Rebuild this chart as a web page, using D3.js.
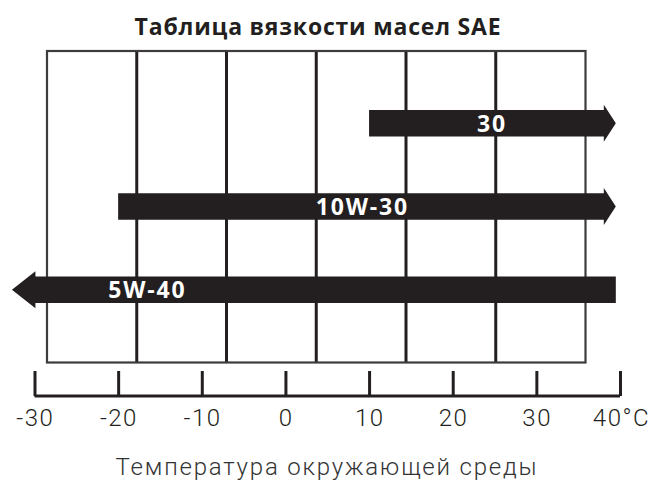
<!DOCTYPE html>
<html>
<head>
<meta charset="utf-8">
<script src="https://cdn.jsdelivr.net/npm/d3@7"></script>
<style>
  html, body { margin: 0; padding: 0; background: #fff; }
  svg { display: block; }
</style>
</head>
<body>
<svg id="chart" width="652" height="482"></svg>
<script>
// ---- data ----
const title = "Таблица вязкости масел SAE";
const xTitle = "Температура окружающей среды";
const grades = ["30", "10W-30", "5W-40"];
const rangeLow = [10, -20, -32.7];        // °C, lowest temperature (arrow start / tip)
const rangeHigh = [39.5, 39.5, 39.5];     // °C, highest temperature
const arrowDir = ["right", "right", "left"];
const labelAt = [24.7, 9.2, -16.5];       // °C, label centre
const tickValues = [-30, -20, -10, 0, 10, 20, 30, 40];
const tickLabels = ["-30", "-20", "-10", "0", "10", "20", "30", "40°C"];
const gridColumns = [0, 1, 2, 3, 4, 5, 6];

const svg = d3.select("#chart");
const ink = "#231f20";

// scales
const x = d3.scaleLinear().domain([-30, 40]).range([34.5, 620]);
const y = d3.scalePoint().domain(grades).range([123.3, 289.7]);
const gx = d3.scaleLinear().domain([0, 6]).range([47, 585.5]);
const boxTop = 51, boxBottom = 362.5;

// title
svg.append("text")
  .attr("x", 318).attr("y", 35)
  .attr("text-anchor", "middle")
  .attr("font-family", "Open Sans, sans-serif")
  .attr("font-weight", 700)
  .attr("font-size", 23)
  .attr("letter-spacing", 0.8)
  .attr("fill", ink)
  .text(title);

// grid box
svg.append("g").selectAll("line")
  .data(gridColumns.slice(1, -1))
  .join("line")
  .attr("x1", d => gx(d)).attr("x2", d => gx(d))
  .attr("y1", boxTop).attr("y2", boxBottom)
  .attr("stroke", ink).attr("stroke-width", 3);

svg.append("rect")
  .attr("x", gx(0)).attr("y", boxTop)
  .attr("width", gx(6) - gx(0)).attr("height", boxBottom - boxTop)
  .attr("fill", "none")
  .attr("stroke", "#3d3b3c").attr("stroke-width", 2.2);

// arrows
const bodyH = 26.5, headExtra = 5.2, headLenR = 12, headLenL = 23.5;
const arrows = svg.append("g");
grades.forEach((g, i) => {
  const cy = y(g);
  const x0 = x(rangeLow[i]), x1 = x(rangeHigh[i]);
  const t = cy - bodyH / 2, b = cy + bodyH / 2;
  const ht = t - headExtra, hb = b + headExtra;
  let pts;
  if (arrowDir[i] === "right") {
    const hb0 = x1 - headLenR;
    pts = [[x0, t], [hb0, t], [hb0, ht], [x1, cy], [hb0, hb], [hb0, b], [x0, b]];
  } else {
    const hb0 = x0 + headLenL;
    pts = [[x1, t], [hb0, t], [hb0, ht], [x0, cy], [hb0, hb], [hb0, b], [x1, b]];
  }
  arrows.append("path")
    .attr("d", d3.line()(pts) + "Z")
    .attr("fill", ink);
  arrows.append("text")
    .attr("x", x(labelAt[i])).attr("y", cy)
    .attr("dy", "0.36em")
    .attr("text-anchor", "middle")
    .attr("font-family", "Open Sans, sans-serif")
    .attr("font-weight", 700)
    .attr("font-size", 23)
    .attr("letter-spacing", 1.8)
    .attr("fill", "#fff")
    .text(g);
});

// temperature axis
const axisY = 396;
const axis = d3.axisTop(x)
  .tickValues(tickValues)
  .tickSize(25)
  .tickSizeOuter(0)
  .tickFormat(() => "");
const ag = svg.append("g").attr("transform", `translate(0,${axisY})`).call(axis);
ag.select(".domain").attr("stroke", ink).attr("stroke-width", 3)
  .attr("d", `M${x(-30)},0H${x(40)}`);
ag.selectAll(".tick line").attr("stroke", ink).attr("stroke-width", 3);

svg.append("g").selectAll("text")
  .data(tickValues)
  .join("text")
  .attr("x", d => x(d) + (d === 40 ? 1.5 : 0.8))
  .attr("y", 426)
  .attr("text-anchor", "middle")
  .attr("font-family", "Roboto, sans-serif")
  .attr("font-weight", 300)
  .attr("font-size", 24)
  .attr("letter-spacing", 1.5)
  .attr("fill", ink)
  .text((d, i) => tickLabels[i]);

// x title
svg.append("text")
  .attr("x", 327).attr("y", 475)
  .attr("text-anchor", "middle")
  .attr("font-family", "Roboto, sans-serif")
  .attr("font-weight", 300)
  .attr("font-size", 24)
  .attr("letter-spacing", 1.8)
  .attr("fill", "#333")
  .text(xTitle);
</script>
</body>
</html>
